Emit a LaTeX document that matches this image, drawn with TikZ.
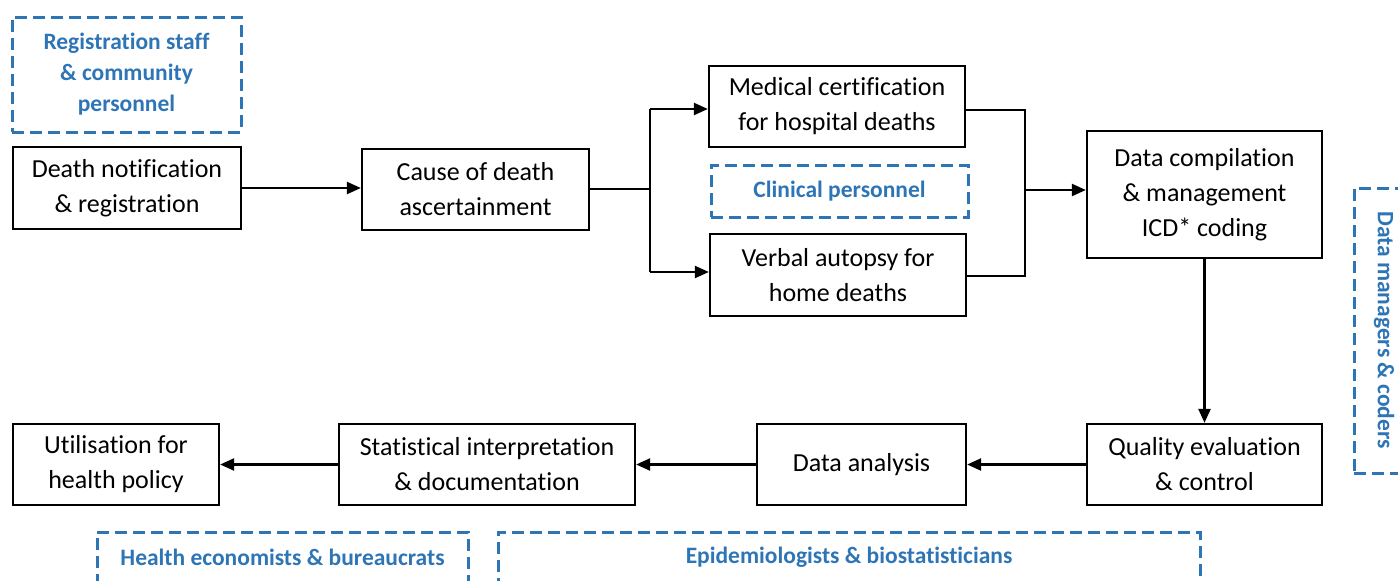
\documentclass[tikz,border=0pt]{standalone}
\usepackage{fontspec}
\setmainfont{Carlito}[Ligatures=NoCommon]
\usetikzlibrary{arrows.meta}
\definecolor{roleblue}{RGB}{46,117,182}
\begin{document}
\begin{tikzpicture}[x=1pt,y=-1pt,
  stepbox/.style={draw=black,line width=2.3pt,align=center,inner sep=0pt,
    font=\fontsize{26}{35}\selectfont},
  rolefont/.style={text=roleblue,font=\bfseries\fontsize{23.5}{31}\selectfont},
  rolebox/.style={draw=roleblue,line width=3pt,dash pattern=on 12pt off 6pt,
    align=center,inner sep=0pt,rolefont},
  conn/.style={line width=2.3pt,-{Triangle[length=14pt,width=12pt]}},
  plain/.style={line width=2.3pt}]
\useasboundingbox (0,0) rectangle (1398,581);
% role boxes
\node[rolebox,minimum width=229pt,minimum height=115pt] (reg) at (126.5,74.5) {Registration staff\\\& community\\personnel};
\node[rolebox,minimum width=257pt,minimum height=52pt] (clin) at (839.5,191) {Clinical personnel};
\node[rolebox,minimum width=100pt,minimum height=285pt] (dm) at (1404,330.5) {};
\node[rolefont,rotate=-90] (dmt) at (1384,330) {Data managers \& coders};
\node[rolebox,minimum width=371pt,minimum height=80pt] (he) at (282.5,572) {};
\node[rolefont] (het) at (282.5,557) {Health economists \& bureaucrats};
\node[rolebox,minimum width=702pt,minimum height=80pt] (ep) at (849,572) {};
\node[rolefont] (ept) at (849,557) {Epidemiologists \& biostatisticians};
% step boxes
\node[stepbox,minimum width=228pt,minimum height=82pt] (death) at (127,188) {Death notification\\\& registration};
\node[stepbox,minimum width=227pt,minimum height=81pt] (cause) at (475.5,189.5) {Cause of death\\ascertainment};
\node[stepbox,minimum width=256pt,minimum height=81pt] (med) at (837,106.5) {Medical certification\\for hospital deaths};
\node[stepbox,minimum width=256pt,minimum height=82pt] (verb) at (838,275) {Verbal autopsy for\\home deaths};
\node[stepbox,minimum width=235pt,minimum height=127pt] (comp) at (1204.5,194.5) {Data compilation\\\& management\\ICD* coding};
\node[stepbox,minimum width=235pt,minimum height=81pt] (qual) at (1204.5,464.5) {Quality evaluation\\\& control};
\node[stepbox,minimum width=209pt,minimum height=81pt] (ana) at (861.5,464.5) {Data analysis};
\node[stepbox,minimum width=296pt,minimum height=81pt] (stat) at (487,464.5) {Statistical interpretation\\\& documentation};
\node[stepbox,minimum width=206pt,minimum height=81pt] (util) at (116,464.5) {Utilisation for\\health policy};
% connectors
\coordinate (splitL) at (650,189);
\coordinate (splitT) at (650,109);
\coordinate (splitB) at (650,272);
\coordinate (joinR) at (1025,190);
\coordinate (joinT) at (1025,110);
\coordinate (joinB) at (1025,276);
\draw[conn] (death.east) -- (cause.west |- death.east);
\draw[plain] (cause.east |- splitL) -- (splitL);
\draw[plain] (splitT) -- (splitB);
\draw[conn] (splitT) -- (med.west |- splitT);
\draw[conn] (splitB) -- (verb.west |- splitB);
\draw[plain] (med.east |- joinT) -- (joinT) -- (joinB) -- (verb.east |- joinB);
\draw[conn] (joinR) -- (comp.west |- joinR);
\draw[conn] (comp.south) -- (qual.north);
\draw[conn] (qual.west) -- (ana.east);
\draw[conn] (ana.west) -- (stat.east);
\draw[conn] (stat.west) -- (util.east);
\end{tikzpicture}
\end{document}
